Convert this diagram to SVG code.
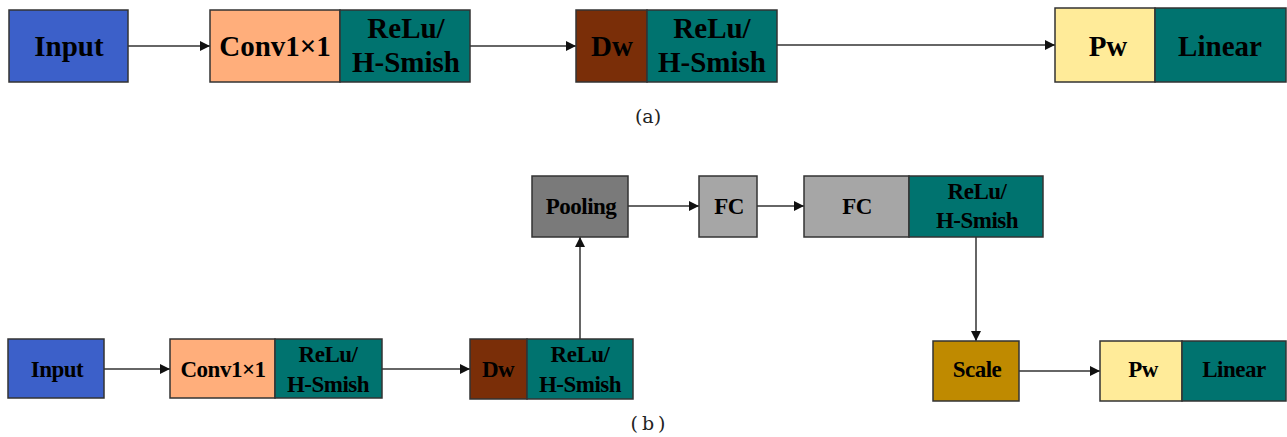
<svg xmlns="http://www.w3.org/2000/svg" width="1287" height="437" viewBox="0 0 1287 437">
<style>
.box{stroke:#333;stroke-width:1.5}
.t{font-family:"Liberation Serif","Times New Roman",serif;font-weight:bold;fill:#000;text-anchor:middle}
.big{font-size:29px}
.sm{font-size:23px;letter-spacing:-0.5px}
.cap{font-family:"DejaVu Serif","Liberation Serif",serif;font-size:19px;fill:#222;text-anchor:middle}
.c{stroke:#333;stroke-width:1.5;fill:none;marker-end:url(#ah)}
</style>
<defs>
<marker id="ah" viewBox="0 0 10 10" refX="10" refY="5" markerWidth="11" markerHeight="10" markerUnits="userSpaceOnUse" orient="auto">
<path d="M0,0 L10,5 L0,10 z" fill="#111"/>
</marker>
</defs>
<rect width="1287" height="437" fill="#fff"/>
<g id="connectors">
<line class="c" x1="128" y1="46" x2="210" y2="46"/>
<line class="c" x1="470" y1="46" x2="576" y2="46"/>
<line class="c" x1="777" y1="45" x2="1055" y2="45"/>
<line class="c" x1="104" y1="369" x2="170" y2="369"/>
<line class="c" x1="382" y1="369" x2="470" y2="369"/>
<line class="c" x1="580" y1="339" x2="580" y2="237"/>
<line class="c" x1="628" y1="206" x2="699" y2="206"/>
<line class="c" x1="757" y1="206" x2="804" y2="206"/>
<line class="c" x1="976" y1="237" x2="976" y2="341"/>
<line class="c" x1="1019" y1="371" x2="1100" y2="371"/>
</g>
<g id="a-input"><rect class="box" x="9" y="10" width="119" height="72" fill="#3C60C9"/><text class="t big" x="69" y="56">Input</text></g>
<g id="a-conv"><rect class="box" x="210" y="10" width="130" height="72" fill="#FFAE7B"/><text class="t big" x="275" y="56">Conv1×1</text></g>
<g id="a-act1"><rect class="box" x="340" y="10" width="130" height="72" fill="#00736F"/><text class="t big" x="406" y="38">ReLu/</text><text class="t big" x="406" y="72">H-Smish</text></g>
<g id="a-dw"><rect class="box" x="576" y="10" width="71" height="72" fill="#7A2E08"/><text class="t big" x="612" y="56">Dw</text></g>
<g id="a-act2"><rect class="box" x="647" y="10" width="130" height="72" fill="#00736F"/><text class="t big" x="712" y="38">ReLu/</text><text class="t big" x="712" y="72">H-Smish</text></g>
<g id="a-pw"><rect class="box" x="1055" y="8" width="100" height="74" fill="#FFEB99"/><text class="t big" x="1108" y="56">Pw</text></g>
<g id="a-linear"><rect class="box" x="1155" y="8" width="131" height="74" fill="#00736F"/><text class="t big" x="1220" y="56">Linear</text></g>
<text class="cap" x="648" y="123">(a)</text>
<g id="b-input"><rect class="box" x="8" y="339" width="96" height="59" fill="#3C60C9"/><text class="t sm" x="57" y="377">Input</text></g>
<g id="b-conv"><rect class="box" x="170" y="339" width="105" height="59" fill="#FFAE7B"/><text class="t sm" x="223" y="377">Conv1×1</text></g>
<g id="b-act1"><rect class="box" x="275" y="339" width="107" height="59" fill="#00736F"/><text class="t sm" x="328" y="362">ReLu/</text><text class="t sm" x="328" y="392">H-Smish</text></g>
<g id="b-dw"><rect class="box" x="470" y="339" width="57" height="60" fill="#7A2E08"/><text class="t sm" x="498" y="377">Dw</text></g>
<g id="b-act2"><rect class="box" x="527" y="339" width="106" height="60" fill="#00736F"/><text class="t sm" x="580" y="362">ReLu/</text><text class="t sm" x="580" y="392">H-Smish</text></g>
<g id="b-pooling"><rect class="box" x="532" y="176" width="96" height="61" fill="#7A7A7A"/><text class="t sm" x="581" y="214">Pooling</text></g>
<g id="b-fc1"><rect class="box" x="699" y="176" width="58" height="61" fill="#A6A6A6"/><text class="t sm" x="729" y="214">FC</text></g>
<g id="b-fc2"><rect class="box" x="804" y="176" width="105" height="61" fill="#A6A6A6"/><text class="t sm" x="857" y="214">FC</text></g>
<g id="b-act3"><rect class="box" x="909" y="176" width="134" height="61" fill="#00736F"/><text class="t sm" x="977" y="199">ReLu/</text><text class="t sm" x="977" y="228">H-Smish</text></g>
<g id="b-scale"><rect class="box" x="933" y="341" width="86" height="60" fill="#BF8A00"/><text class="t sm" x="977" y="377">Scale</text></g>
<g id="b-pw"><rect class="box" x="1100" y="341" width="82" height="60" fill="#FFEB99"/><text class="t sm" x="1143" y="377">Pw</text></g>
<g id="b-linear"><rect class="box" x="1182" y="341" width="104" height="60" fill="#00736F"/><text class="t sm" x="1234" y="377">Linear</text></g>
<text class="cap" x="650" y="430" letter-spacing="4">(b)</text>
</svg>
